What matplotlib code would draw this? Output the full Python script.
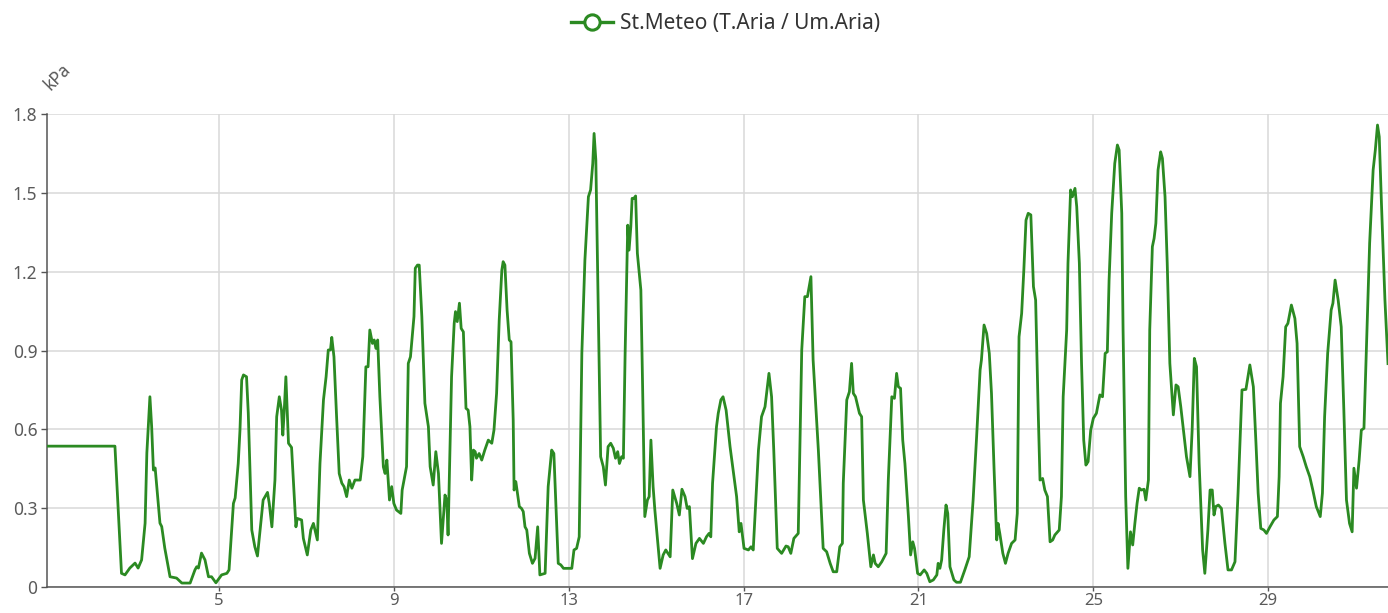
import matplotlib
matplotlib.use('Agg')
import matplotlib.pyplot as plt
from matplotlib.lines import Line2D

plt.rcParams['font.family'] = ['Noto Sans', 'DejaVu Sans']

# time in days, vapour pressure deficit in kPa
days = [
    1.07, 2.62, 2.77, 2.85, 2.96, 3.08, 3.15, 3.23, 3.31, 3.35, 3.42, 3.46,
    3.50, 3.54, 3.65, 3.69, 3.76, 3.88, 4.03, 4.15, 4.34, 4.45, 4.49, 4.53,
    4.60, 4.68, 4.76, 4.83, 4.93, 5.06, 5.18, 5.23, 5.33, 5.37, 5.44, 5.48,
    5.52, 5.56, 5.63, 5.67, 5.75, 5.82, 5.88, 5.94, 6.01, 6.11, 6.15, 6.21,
    6.28, 6.32, 6.38, 6.43, 6.46, 6.49, 6.53, 6.59, 6.66, 6.76, 6.79, 6.89,
    6.93, 7.02, 7.10, 7.16, 7.25, 7.31, 7.39, 7.45, 7.50, 7.55, 7.58, 7.63,
    7.69, 7.75, 7.81, 7.86, 7.92, 7.98, 8.04, 8.11, 8.23, 8.29, 8.36, 8.41,
    8.45, 8.51, 8.55, 8.59, 8.63, 8.68, 8.76, 8.80, 8.84, 8.90, 8.95, 9.00,
    9.06, 9.16, 9.19, 9.29, 9.33, 9.38, 9.46, 9.49, 9.54, 9.58, 9.64, 9.71,
    9.79, 9.83, 9.90, 9.96, 10.02, 10.09, 10.17, 10.21, 10.24, 10.32, 10.38,
    10.41, 10.45, 10.50, 10.54, 10.59, 10.65, 10.70, 10.74, 10.78, 10.82,
    10.86, 10.89, 10.95, 11.01, 11.08, 11.16, 11.24, 11.29, 11.35, 11.41,
    11.47, 11.50, 11.54, 11.59, 11.64, 11.68, 11.73, 11.75, 11.79, 11.87,
    11.92, 11.96, 12.00, 12.04, 12.10, 12.17, 12.23, 12.29, 12.34, 12.46,
    12.53, 12.61, 12.66, 12.72, 12.76, 12.82, 12.88, 12.95, 13.07, 13.12,
    13.18, 13.24, 13.30, 13.37, 13.45, 13.50, 13.55, 13.58, 13.62, 13.68,
    13.73, 13.79, 13.84, 13.90, 13.96, 14.02, 14.07, 14.12, 14.16, 14.21,
    14.25, 14.29, 14.35, 14.38, 14.42, 14.45, 14.49, 14.53, 14.57, 14.65,
    14.69, 14.74, 14.80, 14.84, 14.88, 14.93, 14.97, 15.09, 15.16, 15.22,
    15.32, 15.38, 15.47, 15.53, 15.59, 15.66, 15.71, 15.76, 15.83, 15.91,
    15.99, 16.08, 16.15, 16.21, 16.25, 16.29, 16.38, 16.42, 16.48, 16.53,
    16.60, 16.69, 16.84, 16.90, 16.94, 17.01, 17.11, 17.17, 17.22, 17.30,
    17.34, 17.41, 17.49, 17.58, 17.64, 17.69, 17.77, 17.87, 17.97, 18.02,
    18.08, 18.15, 18.25, 18.33, 18.40, 18.46, 18.50, 18.54, 18.59, 18.71,
    18.82, 18.90, 18.98, 19.05, 19.13, 19.20, 19.26, 19.28, 19.36, 19.42,
    19.47, 19.51, 19.56, 19.65, 19.70, 19.74, 19.83, 19.91, 19.97, 20.01,
    20.08, 20.16, 20.26, 20.31, 20.39, 20.45, 20.50, 20.54, 20.59, 20.64,
    20.69, 20.77, 20.82, 20.87, 20.91, 20.98, 21.04, 21.13, 21.19, 21.26,
    21.34, 21.42, 21.45, 21.49, 21.53, 21.58, 21.63, 21.67, 21.72, 21.81,
    21.87, 21.96, 22.06, 22.16, 22.25, 22.33, 22.41, 22.44, 22.50, 22.56,
    22.62, 22.67, 22.73, 22.79, 22.82, 22.86, 22.93, 22.99, 23.05, 23.13,
    23.21, 23.26, 23.30, 23.36, 23.41, 23.46, 23.51, 23.57, 23.63, 23.68,
    23.74, 23.78, 23.84, 23.89, 23.95, 24.01, 24.07, 24.12, 24.22, 24.27,
    24.31, 24.39, 24.42, 24.48, 24.52, 24.58, 24.62, 24.68, 24.73, 24.78,
    24.83, 24.88, 24.94, 25.00, 25.07, 25.15, 25.21, 25.27, 25.32, 25.36,
    25.42, 25.49, 25.55, 25.59, 25.65, 25.68, 25.74, 25.79, 25.85, 25.90,
    25.95, 26.00, 26.05, 26.10, 26.16, 26.20, 26.26, 26.29, 26.35, 26.39,
    26.43, 26.48, 26.54, 26.58, 26.64, 26.69, 26.75, 26.83, 26.89, 26.94,
    27.00, 27.07, 27.13, 27.21, 27.26, 27.31, 27.36, 27.42, 27.50, 27.55,
    27.62, 27.67, 27.72, 27.76, 27.80, 27.86, 27.93, 28.01, 28.08, 28.16,
    28.24, 28.31, 28.40, 28.49, 28.58, 28.66, 28.72, 28.77, 28.83, 28.90,
    28.96, 29.04, 29.13, 29.21, 29.25, 29.28, 29.34, 29.40, 29.45, 29.53,
    29.61, 29.66, 29.72, 29.80, 29.87, 29.95, 30.02, 30.10, 30.19, 30.24,
    30.29, 30.36, 30.44, 30.48, 30.53, 30.60, 30.67, 30.73, 30.79, 30.86,
    30.92, 30.96, 31.02, 31.08, 31.13, 31.19, 31.25, 31.32, 31.40, 31.45,
    31.50, 31.54, 31.59, 31.67, 31.74,
]
kpa = [
    0.536, 0.536, 0.052, 0.046, 0.072, 0.091, 0.072, 0.103, 0.243, 0.51, 0.724, 0.61,
    0.445, 0.453, 0.243, 0.23, 0.148, 0.039, 0.034, 0.015, 0.015, 0.065, 0.077, 0.072,
    0.129, 0.103, 0.039, 0.039, 0.016, 0.046, 0.052, 0.065, 0.318, 0.339, 0.47, 0.597,
    0.788, 0.807, 0.80, 0.662, 0.217, 0.153, 0.118, 0.217, 0.331, 0.36, 0.318, 0.229,
    0.407, 0.648, 0.724, 0.673, 0.578, 0.662, 0.80, 0.547, 0.531, 0.229, 0.261, 0.255,
    0.185, 0.122, 0.217, 0.242, 0.179, 0.47, 0.712, 0.80, 0.902, 0.902, 0.95, 0.876,
    0.648, 0.432, 0.395, 0.382, 0.344, 0.407, 0.376, 0.407, 0.407, 0.496, 0.838, 0.838,
    0.978, 0.927, 0.94, 0.908, 0.94, 0.724, 0.457, 0.432, 0.483, 0.331, 0.382, 0.318,
    0.293, 0.28, 0.369, 0.458, 0.851, 0.876, 1.029, 1.213, 1.225, 1.225, 1.029, 0.699,
    0.61, 0.458, 0.388, 0.515, 0.432, 0.166, 0.35, 0.331, 0.198, 0.80, 1.003,
    1.048, 1.01, 1.08, 0.984, 0.971, 0.68, 0.673, 0.61, 0.407, 0.521,
    0.515, 0.49, 0.508, 0.483, 0.521, 0.559, 0.547, 0.597, 0.737, 1.016,
    1.206, 1.238, 1.225, 1.054, 0.94, 0.933, 0.635, 0.369, 0.401, 0.306,
    0.299, 0.287, 0.229, 0.217, 0.128, 0.09, 0.109, 0.229, 0.046, 0.052,
    0.382, 0.521, 0.508, 0.255, 0.09, 0.084, 0.071, 0.071, 0.071, 0.141,
    0.147, 0.191, 0.889, 1.244, 1.485, 1.511, 1.612, 1.726, 1.625, 1.016,
    0.496, 0.458, 0.388, 0.534, 0.547, 0.528, 0.49, 0.515, 0.47, 0.496,
    0.49, 0.889, 1.377, 1.282, 1.371, 1.479, 1.479, 1.488, 1.27, 1.13,
    0.762, 0.268, 0.331, 0.344, 0.559, 0.382, 0.293, 0.071, 0.122, 0.141,
    0.115, 0.369, 0.318, 0.274, 0.372, 0.344, 0.299, 0.306, 0.108, 0.166,
    0.185, 0.166, 0.191, 0.204, 0.191, 0.395, 0.61, 0.661, 0.712, 0.724,
    0.673, 0.534, 0.344, 0.21, 0.242, 0.147, 0.141, 0.153, 0.141, 0.395,
    0.521, 0.648, 0.686, 0.813, 0.724, 0.521, 0.147, 0.128, 0.156, 0.153,
    0.128, 0.185, 0.204, 0.902, 1.105, 1.105, 1.143, 1.181, 0.864, 0.521,
    0.147, 0.134, 0.09, 0.058, 0.058, 0.153, 0.166, 0.395, 0.712, 0.743,
    0.851, 0.737, 0.724, 0.661, 0.648, 0.331, 0.204, 0.077, 0.122, 0.09,
    0.077, 0.096, 0.128, 0.407, 0.724, 0.718, 0.813, 0.762, 0.756, 0.559,
    0.47, 0.268, 0.122, 0.172, 0.147, 0.052, 0.046, 0.065, 0.052, 0.02,
    0.027, 0.046, 0.09, 0.071, 0.103, 0.217, 0.312, 0.28, 0.077, 0.027,
    0.018, 0.018, 0.065, 0.115, 0.331, 0.572, 0.826, 0.864, 0.997, 0.965,
    0.889, 0.737, 0.445, 0.179, 0.242, 0.204, 0.128, 0.09, 0.128, 0.166,
    0.179, 0.28, 0.952, 1.041, 1.206, 1.396, 1.422, 1.416, 1.143, 1.092,
    0.661, 0.407, 0.413, 0.369, 0.344, 0.172, 0.179, 0.198, 0.217, 0.344,
    0.724, 0.978, 1.232, 1.511, 1.485, 1.517, 1.447, 1.232, 0.851, 0.559,
    0.464, 0.477, 0.597, 0.642, 0.661, 0.731, 0.724, 0.889, 0.895, 1.168,
    1.422, 1.612, 1.682, 1.663, 1.422, 0.978, 0.344, 0.071, 0.21, 0.16,
    0.242, 0.318, 0.376, 0.369, 0.372, 0.331, 0.407, 0.978, 1.295, 1.327,
    1.384, 1.587, 1.656, 1.631, 1.485, 1.232, 0.851, 0.655, 0.769, 0.762,
    0.686, 0.585, 0.496, 0.42, 0.597, 0.87, 0.838, 0.47, 0.141, 0.052,
    0.217, 0.369, 0.369, 0.274, 0.306, 0.312, 0.299, 0.166, 0.065, 0.065,
    0.096, 0.357, 0.75, 0.752, 0.845, 0.762, 0.547, 0.357, 0.223, 0.217,
    0.204, 0.229, 0.255, 0.268, 0.42, 0.699, 0.80, 0.99, 1.003, 1.073,
    1.022, 0.927, 0.534, 0.496, 0.458, 0.42, 0.369, 0.306, 0.268, 0.357,
    0.648, 0.889, 1.054, 1.08, 1.168, 1.092, 0.99, 0.673, 0.331, 0.242,
    0.21, 0.452, 0.376, 0.483, 0.597, 0.604, 0.927, 1.308, 1.587, 1.663,
    1.758, 1.713, 1.46, 1.092, 0.85,
]

x_ticks = [5, 9, 13, 17, 21, 25, 29]
y_ticks = [0, 0.3, 0.6, 0.9, 1.2, 1.5, 1.8]
y_labels = ['0', '0.3', '0.6', '0.9', '1.2', '1.5', '1.8']
series_name = 'St.Meteo (T.Aria / Um.Aria)'
unit = 'kPa'

green = '#2b8a22'
grid_col = '#d9d9d9'
text_col = '#5a5a5a'
axis_col = '#555555'

fig = plt.figure(figsize=(13.88, 6.13), dpi=100)
ax = fig.add_axes([47 / 1388, 26 / 613, 1 - 47 / 1388, 473 / 613])

ax.plot(days, kpa, color=green, lw=2.0, solid_joinstyle='round', zorder=3)

ax.set_xlim(1.066, 31.74)
ax.set_ylim(0, 1.8)
ax.set_xticks(x_ticks)
ax.set_yticks(y_ticks)
ax.set_yticklabels(y_labels)
ax.grid(True, color=grid_col, lw=1.1)
ax.set_axisbelow(True)

for s in ['top', 'right']:
    ax.spines[s].set_visible(False)
ax.spines['left'].set_color(axis_col)
ax.spines['bottom'].set_color(axis_col)
ax.spines['left'].set_linewidth(1.1)
ax.spines['bottom'].set_linewidth(1.1)
ax.tick_params(axis='both', colors=axis_col, labelcolor=text_col,
               labelsize=12.5, length=4, width=1)
ax.tick_params(axis='x', pad=1, labelsize=12, length=3)
ax.tick_params(axis='y', pad=3)

fig.text(0.041, 0.875, unit, rotation=45, fontsize=12.5, color=text_col,
         ha='center', va='center')

handle = Line2D([0], [0], color=green, lw=2.4, marker='o', markersize=11,
                markerfacecolor='white', markeredgecolor=green, markeredgewidth=2.2)
fig.legend([handle], [series_name], loc='center', bbox_to_anchor=(0.523, 0.962),
           frameon=False, fontsize=15, handlelength=2.0, handletextpad=0.35,
           labelcolor='#333333')

fig.savefig('out.png', dpi=100)
